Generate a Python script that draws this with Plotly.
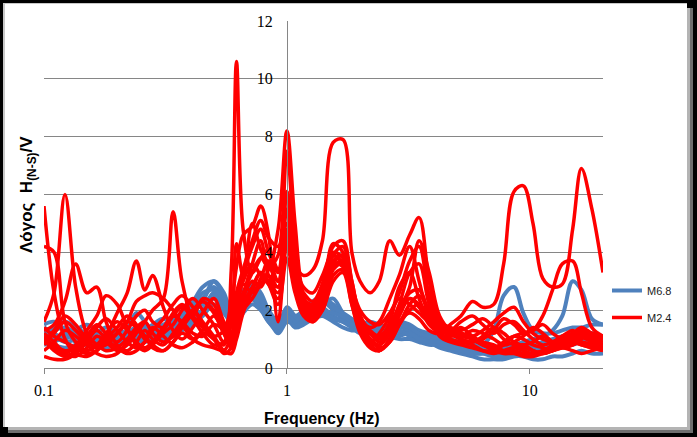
import plotly.graph_objects as go

FREQ = [0.100, 0.110, 0.122, 0.135, 0.150, 0.165, 0.180, 0.200, 0.220, 0.240,
        0.260, 0.280, 0.310, 0.340, 0.370, 0.410, 0.450, 0.500, 0.550, 0.590,
        0.620, 0.660, 0.720, 0.780, 0.840, 0.920, 1.000, 1.080, 1.170, 1.280,
        1.400, 1.550, 1.700, 1.850, 2.000, 2.200, 2.400, 2.650, 2.900, 3.200,
        3.500, 3.850, 4.250, 4.700, 5.200, 5.800, 6.400, 7.100, 7.800, 8.600,
        9.400, 10.30, 11.30, 12.40, 13.60, 15.00, 16.30, 18.00, 20.00]

# M6.8 curves (blue)
m68_1 = [1.3, 1.1, 0.9, 1.0, 1.2, 1.1, 0.9, 1.0, 1.2, 1.4,
         1.2, 1.1, 1.3, 1.5, 1.6, 1.9, 2.3, 3.0, 2.6, 1.9,
         2.0, 2.5, 2.7, 2.3, 1.8, 1.4, 1.9, 1.7, 1.8, 2.1,
         2.3, 2.0, 1.7, 1.5, 1.4, 1.5, 1.4, 1.3, 1.5, 1.4,
         1.2, 1.0, 1.0, 0.9, 0.8, 0.7, 0.8, 1.3, 2.5, 2.8,
         1.9, 1.3, 1.2, 1.2, 1.3, 1.4, 1.4, 1.5, 1.5]
m68_2 = [0.9, 1.0, 1.2, 1.1, 0.9, 0.8, 1.0, 1.2, 1.1, 1.0,
         1.1, 1.3, 1.2, 1.4, 1.7, 1.8, 2.0, 2.6, 2.2, 1.7,
         2.1, 2.7, 2.4, 2.1, 1.6, 1.3, 1.7, 1.6, 1.9, 2.2,
         2.1, 1.8, 1.6, 1.4, 1.2, 1.3, 1.2, 1.2, 1.4, 1.3,
         1.1, 1.0, 0.8, 0.7, 0.6, 0.5, 0.5, 0.6, 0.7, 0.8,
         0.9, 1.0, 1.1, 1.3, 1.8, 3.0, 2.7, 1.7, 1.5]
m68_3 = [1.5, 1.6, 1.3, 0.9, 0.8, 1.0, 1.2, 1.1, 0.9, 1.1,
         1.5, 1.3, 1.0, 1.2, 1.5, 1.6, 1.9, 2.4, 2.1, 1.8,
         1.9, 2.3, 2.9, 2.6, 2.0, 1.5, 2.1, 1.8, 1.6, 1.9,
         2.2, 2.4, 1.9, 1.6, 1.5, 1.3, 1.1, 1.0, 1.2, 1.3,
         1.1, 0.9, 0.7, 0.6, 0.5, 0.4, 0.3, 0.3, 0.3, 0.4,
         0.4, 0.3, 0.3, 0.4, 0.4, 0.5, 0.6, 0.5, 0.5]
m68_4 = [1.1, 1.3, 1.4, 1.2, 1.0, 0.8, 0.7, 0.9, 1.3, 1.9,
         1.6, 1.2, 1.0, 1.1, 1.3, 1.5, 1.8, 2.2, 1.9, 1.6,
         1.7, 2.0, 2.4, 2.2, 1.7, 1.2, 1.6, 1.5, 1.7, 2.0,
         2.4, 2.2, 1.8, 1.5, 1.3, 1.4, 1.3, 1.2, 1.3, 1.1,
         1.0, 0.9, 0.8, 0.8, 0.7, 0.6, 0.6, 0.5, 0.5, 0.6,
         0.6, 0.7, 0.8, 0.9, 0.9, 1.0, 1.1, 1.0, 0.9]
m68_5 = [1.4, 1.2, 1.0, 1.3, 1.5, 1.3, 1.0, 0.8, 1.0, 1.2,
         1.3, 1.5, 1.7, 1.5, 1.4, 1.8, 2.4, 2.8, 2.3, 2.0,
         2.2, 2.4, 2.6, 2.4, 2.0, 1.6, 2.0, 1.8, 2.0, 2.3,
         2.0, 1.9, 1.8, 1.6, 1.4, 1.2, 1.2, 1.4, 1.6, 1.5,
         1.3, 1.2, 1.1, 1.0, 0.9, 0.8, 0.8, 0.7, 0.7, 0.8,
         0.8, 0.7, 0.7, 0.8, 1.0, 1.1, 1.2, 1.1, 1.0]
m68_6 = [0.8, 0.9, 1.1, 1.3, 1.2, 0.9, 0.8, 1.0, 1.1, 1.0,
         0.9, 1.0, 1.1, 1.3, 1.6, 2.0, 2.2, 2.5, 2.0, 1.6,
         1.8, 2.2, 2.5, 2.3, 1.9, 1.5, 1.8, 1.5, 1.6, 1.8,
         1.9, 1.7, 1.6, 1.5, 1.6, 1.5, 1.3, 1.1, 1.0, 1.0,
         0.9, 0.8, 0.8, 0.7, 0.6, 0.5, 0.5, 0.4, 0.4, 0.5,
         0.5, 0.6, 0.6, 0.7, 0.8, 0.8, 0.9, 0.8, 0.8]
m68_7 = [1.2, 1.4, 1.6, 1.4, 1.1, 1.0, 1.1, 1.3, 1.2, 1.0,
         1.0, 1.2, 1.4, 1.6, 1.8, 2.1, 2.6, 2.7, 2.4, 1.8,
         1.6, 1.9, 2.2, 2.0, 1.6, 1.3, 1.8, 1.6, 1.9, 2.3,
         2.5, 2.1, 1.9, 1.7, 1.5, 1.6, 1.5, 1.4, 1.5, 1.4,
         1.2, 1.1, 1.0, 0.9, 0.9, 0.8, 0.7, 0.7, 0.6, 0.6,
         0.7, 0.8, 0.9, 1.0, 1.1, 1.2, 1.3, 1.2, 1.1]
m68_8 = [1.0, 0.8, 0.7, 0.8, 1.0, 1.2, 1.4, 1.2, 1.0, 1.2,
         1.4, 1.3, 1.5, 1.7, 1.9, 2.3, 2.8, 3.0, 2.5, 2.1,
         2.3, 2.6, 2.8, 2.4, 1.8, 1.4, 1.7, 1.4, 1.5, 1.7,
         1.8, 1.6, 1.4, 1.3, 1.3, 1.2, 1.1, 1.0, 1.1, 1.2,
         1.0, 0.9, 0.9, 0.8, 0.7, 0.7, 0.6, 0.6, 0.7, 0.7,
         0.6, 0.6, 0.7, 0.8, 0.9, 1.0, 1.0, 0.9, 0.8]

# M2.4 curves (red)
m24_1 = [1.0, 0.8, 0.6, 0.7, 1.1, 1.5, 1.2, 0.9, 1.3, 1.8,
         2.0, 1.6, 1.4, 1.9, 2.2, 1.8, 1.4, 1.0, 0.8, 3.4,
         10.6, 4.8, 3.3, 3.8, 4.1, 3.4, 6.1, 3.0, 2.2, 1.9,
         2.4, 3.6, 3.9, 2.8, 1.8, 1.2, 1.0, 1.6, 2.8, 3.3,
         2.4, 1.6, 1.3, 1.2, 1.4, 1.1, 0.9, 0.8, 0.6, 0.7,
         0.8, 0.6, 0.5, 0.6, 0.8, 0.9, 0.8, 0.7, 0.6]
m24_2 = [1.4, 1.1, 0.9, 0.7, 0.5, 0.6, 0.9, 1.2, 1.6, 2.3,
         2.5, 2.6, 2.4, 2.0, 1.5, 1.0, 0.8, 0.7, 0.6, 1.1,
         1.9, 2.6, 3.3, 3.8, 3.5, 4.8, 8.2, 5.0, 2.5, 1.9,
         2.6, 3.9, 4.2, 3.0, 1.6, 0.8, 0.6, 1.0, 1.8, 2.4,
         2.1, 1.5, 1.2, 1.0, 0.9, 0.8, 0.6, 0.5, 0.6, 0.7,
         0.6, 0.5, 0.6, 0.8, 1.0, 1.1, 0.9, 0.8, 0.7]
m24_3 = [0.8, 1.2, 1.6, 1.3, 0.9, 0.7, 0.8, 1.2, 1.6, 1.4,
         1.0, 0.9, 1.3, 1.8, 2.1, 1.7, 1.2, 0.8, 0.9, 1.5,
         2.6, 3.4, 4.4, 5.1, 4.5, 4.2, 5.0, 3.6, 3.2, 3.4,
         4.4, 7.8, 7.9, 4.0, 3.0, 2.6, 3.0, 4.4, 3.9, 4.6,
         5.2, 3.0, 1.6, 1.4, 1.3, 1.5, 1.7, 1.4, 1.0, 0.8,
         0.7, 0.6, 0.5, 0.6, 0.7, 0.6, 0.5, 0.6, 0.7]
m24_4 = [1.6, 2.6, 6.0, 2.8, 1.2, 0.8, 0.6, 0.7, 1.0, 1.4,
         1.6, 1.2, 0.9, 1.1, 1.5, 2.0, 2.3, 1.9, 1.2, 0.8,
         1.4, 2.4, 3.0, 2.8, 3.4, 3.9, 7.5, 4.0, 2.0, 1.6,
         2.2, 3.4, 3.6, 2.6, 1.6, 1.0, 0.7, 0.9, 1.5, 2.2,
         2.5, 2.0, 1.4, 1.1, 1.2, 1.0, 0.8, 0.7, 0.9, 1.1,
         1.0, 0.8, 0.7, 0.6, 0.8, 1.0, 1.2, 1.0, 0.9]
m24_5 = [4.2, 4.0, 1.6, 0.9, 0.6, 0.8, 1.2, 1.6, 1.3, 0.9,
         0.7, 0.9, 1.4, 1.8, 1.6, 1.2, 1.1, 1.5, 1.3, 0.9,
         1.6, 2.5, 3.6, 4.4, 3.2, 2.8, 4.6, 3.1, 2.3, 2.0,
         2.6, 4.3, 4.0, 2.7, 1.8, 1.3, 1.1, 1.5, 2.2, 3.3,
         3.6, 2.2, 1.5, 1.3, 1.6, 1.8, 1.5, 1.2, 1.5, 1.6,
         1.3, 1.0, 0.8, 0.9, 1.1, 1.3, 1.1, 0.9, 0.8]
m24_6 = [5.6, 2.6, 1.0, 0.5, 0.4, 0.6, 1.0, 1.4, 1.8, 1.5,
         1.1, 0.8, 0.6, 0.9, 1.4, 1.9, 2.3, 2.0, 1.5, 1.0,
         1.8, 2.9, 2.6, 3.1, 3.7, 3.0, 5.5, 3.2, 2.1, 1.8,
         2.3, 3.7, 3.9, 2.5, 1.4, 0.9, 1.2, 1.8, 2.6, 3.7,
         4.2, 2.5, 1.6, 1.2, 1.0, 0.9, 1.1, 1.4, 1.2, 0.9,
         0.8, 0.9, 1.1, 0.9, 0.7, 0.8, 1.0, 1.2, 1.0]
m24_7 = [1.2, 0.9, 0.5, 0.4, 0.7, 1.1, 0.9, 0.6, 0.8, 1.2,
         1.6, 2.0, 2.4, 5.4, 3.0, 1.8, 2.4, 2.2, 1.4, 1.1,
         2.2, 3.0, 3.6, 3.2, 2.9, 2.4, 4.4, 3.0, 2.4, 2.2,
         2.8, 3.6, 3.5, 2.4, 1.5, 1.0, 0.8, 1.2, 2.0, 2.6,
         2.7, 1.9, 1.3, 1.2, 1.1, 1.3, 1.2, 1.0, 0.8, 0.9,
         1.1, 1.4, 1.2, 0.9, 0.8, 0.9, 0.8, 0.7, 0.6]
m24_8 = [0.9, 1.3, 1.8, 1.5, 1.0, 0.7, 1.1, 1.9, 2.6, 3.7,
         2.7, 3.2, 2.1, 1.3, 1.0, 1.4, 1.9, 2.4, 1.6, 1.2,
         2.0, 3.2, 4.2, 4.8, 4.0, 3.3, 6.1, 3.4, 2.4, 2.1,
         2.9, 4.2, 4.4, 3.0, 1.8, 1.2, 0.9, 1.3, 2.0, 2.8,
         4.4, 3.3, 1.8, 1.3, 1.1, 1.0, 0.8, 0.7, 0.6, 0.6,
         0.5, 0.5, 0.6, 0.7, 0.9, 1.1, 1.3, 1.1, 1.0]
m24_9 = [1.3, 1.5, 2.3, 3.6, 2.6, 2.8, 1.6, 0.8, 0.6, 0.9,
         1.3, 1.0, 0.8, 1.2, 1.6, 2.0, 1.6, 1.1, 0.6, 0.5,
         1.0, 1.9, 2.7, 3.3, 3.0, 2.6, 4.2, 3.3, 2.6, 2.3,
         2.9, 3.9, 3.6, 2.4, 1.7, 1.4, 1.6, 2.4, 3.2, 4.2,
         3.0, 1.8, 1.4, 1.3, 1.2, 1.0, 0.8, 0.6, 0.5, 0.5,
         0.4, 0.4, 0.5, 0.6, 0.7, 0.8, 0.9, 0.8, 0.7]
m24_10 = [0.4, 0.3, 0.3, 0.5, 0.9, 1.4, 1.7, 1.3, 0.9, 0.7,
          0.9, 1.3, 1.7, 2.2, 2.5, 2.1, 1.5, 1.1, 1.3, 2.2,
          3.5, 4.6, 4.9, 5.6, 4.6, 1.6, 4.2, 3.0, 2.0, 1.7,
          2.0, 3.0, 3.3, 2.2, 1.3, 0.8, 0.6, 0.9, 1.5, 2.0,
          2.2, 1.7, 1.4, 1.2, 1.0, 0.9, 1.0, 1.3, 1.7, 1.5,
          1.2, 1.3, 1.5, 1.2, 1.0, 0.9, 1.1, 1.0, 0.8]
m24_11 = [1.1, 0.7, 0.5, 0.8, 1.3, 1.8, 2.5, 2.2, 1.4, 0.8,
          0.6, 0.8, 1.2, 1.5, 2.0, 2.4, 2.0, 1.5, 0.9, 1.6,
          4.3, 3.2, 5.0, 4.1, 3.6, 3.0, 4.8, 3.6, 2.8, 2.6,
          3.2, 4.0, 3.8, 2.8, 2.0, 1.6, 1.5, 1.9, 2.4, 2.2,
          1.9, 1.6, 1.5, 1.4, 1.2, 1.1, 1.3, 1.6, 1.9, 2.1,
          1.6, 1.2, 1.0, 0.9, 1.1, 1.2, 1.4, 1.2, 1.1]
m24_12 = [0.6, 0.9, 1.3, 1.1, 0.8, 0.5, 0.4, 0.5, 0.9, 1.3,
          1.1, 0.7, 0.6, 0.9, 1.2, 1.0, 1.3, 1.8, 1.2, 0.7,
          1.3, 2.2, 2.8, 3.3, 2.9, 2.2, 3.8, 2.6, 1.8, 1.6,
          2.0, 3.2, 3.4, 2.2, 1.2, 0.7, 0.6, 1.0, 1.6, 1.9,
          1.7, 1.3, 1.2, 1.5, 1.8, 2.3, 2.1, 2.2, 3.6, 6.1,
          6.3, 5.0, 3.1, 2.8, 2.9, 4.8, 6.9, 5.5, 3.3]
m24_13 = [1.0, 0.6, 0.4, 0.6, 1.0, 1.3, 1.0, 0.7, 0.5, 0.6,
          0.9, 1.4, 1.1, 0.8, 0.7, 0.9, 1.2, 1.0, 0.5, 0.7,
          1.5, 2.0, 2.4, 2.9, 3.2, 2.8, 4.5, 2.7, 1.9, 1.7,
          2.4, 3.5, 3.7, 2.6, 1.5, 0.9, 0.8, 1.3, 1.9, 2.4,
          2.2, 1.8, 1.1, 0.9, 0.8, 0.7, 0.6, 0.6, 0.8, 1.1,
          1.2, 1.3, 1.8, 2.7, 3.6, 3.7, 2.6, 1.4, 1.1]

BLUE_SERIES = [m68_1, m68_2, m68_3, m68_4, m68_5, m68_6, m68_7, m68_8]
RED_SERIES = [m24_1, m24_2, m24_3, m24_4, m24_5, m24_6, m24_7, m24_8,
              m24_9, m24_10, m24_11, m24_12, m24_13]

X_TICKS = [0.1, 1, 10]
X_TICK_TEXT = ["0.1", "1", "10"]
Y_TICKS = [0, 2, 4, 6, 8, 10, 12]

BLUE = "#4F81BD"
RED = "#FF0000"

fig = go.Figure()
for i, ys in enumerate(BLUE_SERIES):
    fig.add_trace(go.Scatter(x=FREQ, y=ys, mode="lines", name="M6.8",
                             legendgroup="m68", showlegend=(i == 0),
                             line=dict(color=BLUE, width=4, shape="spline", smoothing=1.0)))
for i, ys in enumerate(RED_SERIES):
    fig.add_trace(go.Scatter(x=FREQ, y=ys, mode="lines", name="M2.4",
                             legendgroup="m24", showlegend=(i == 0),
                             line=dict(color=RED, width=3.5, shape="spline", smoothing=1.0)))

# pixel -> paper helpers (plot area spans px 44..603 horizontally, 21..368 vertically)
L, R, T, B = 44, 603, 21, 368
def PX(p):
    return (p - L) / (R - L)
def PY(p):
    return (B - p) / (B - T)

shapes = [
    dict(type="rect", xref="paper", yref="paper", layer="below",
         x0=PX(8), x1=PX(693), y0=PY(8), y1=PY(433),
         fillcolor="#6e6e6e", line=dict(width=0)),
    dict(type="rect", xref="paper", yref="paper", layer="below",
         x0=PX(8), x1=PX(690), y0=PY(8), y1=PY(430),
         fillcolor="#b4b4b4", line=dict(width=0)),
    dict(type="rect", xref="paper", yref="paper", layer="below",
         x0=PX(3), x1=PX(687), y0=PY(3), y1=PY(427),
         fillcolor="#c8c8c8", line=dict(width=0)),
    dict(type="rect", xref="paper", yref="paper", layer="below",
         x0=PX(5), x1=PX(687), y0=PY(4), y1=PY(427),
         fillcolor="white", line=dict(width=0)),
]

fig.update_layout(
    width=697, height=437,
    margin=dict(l=L, r=697 - R, t=T, b=437 - B),
    paper_bgcolor="black",
    plot_bgcolor="rgba(0,0,0,0)",
    shapes=shapes,
    showlegend=True,
    legend=dict(x=PX(607), y=PY(276), xanchor="left", yanchor="top",
                font=dict(family="Liberation Sans", size=11, color="#222"),
                tracegroupgap=8, bgcolor="rgba(0,0,0,0)", itemwidth=30),
    xaxis=dict(type="log", range=[-1, 1.30103], tickvals=X_TICKS, ticktext=X_TICK_TEXT,
               ticks="outside", ticklen=5, tickcolor="#868686", showgrid=False,
               showline=True, linecolor="#868686", linewidth=1, zeroline=False,
               tickfont=dict(family="Liberation Serif", size=16, color="black"),
               ticklabelstandoff=3),
    yaxis=dict(range=[0, 12], tickvals=Y_TICKS, anchor="free", position=PX(287),
               showgrid=True, gridcolor="#868686", gridwidth=1,
               showline=True, linecolor="#868686", linewidth=1, zeroline=False,
               ticks="", tickfont=dict(family="Liberation Serif", size=16, color="black"),
               ticklabelstandoff=11),
    annotations=[
        dict(text="<b>Frequency (Hz)</b>", xref="paper", yref="paper",
             x=PX(322), y=PY(418), xanchor="center", yanchor="middle", showarrow=False,
             font=dict(family="Liberation Sans", size=16, color="black")),
        dict(text="<b>Λόγος  H<sub>(N-S)</sub>/V</b>", xref="paper", yref="paper",
             x=PX(28), y=PY(195), xanchor="center", yanchor="middle", showarrow=False,
             textangle=-90, font=dict(family="Liberation Sans", size=17, color="black")),
    ],
)

fig.write_html("out.html")
